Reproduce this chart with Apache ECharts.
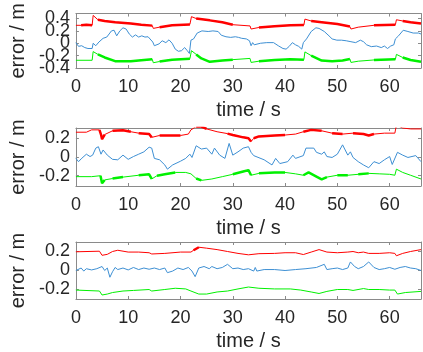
<!DOCTYPE html>
<html>
<head>
<meta charset="utf-8">
<script src="https://cdn.jsdelivr.net/npm/echarts@6/dist/echarts.min.js"></script>
<style>
  html, body { margin: 0; padding: 0; background: #fff; }
  #chart { width: 423px; height: 352px; }
</style>
</head>
<body>
<div id="chart"></div>
<script>
  // ---- data: [time (s), error (m)] ----
  const p1Red = [[0,0.29],[1,0.29],[2,0.30],[3.1,0.29],[3.3,0.45],[4.2,0.38],[5.5,0.36],[7.5,0.34],[10.5,0.32],[12.5,0.30],[14.6,0.285],[14.8,0.24],[16,0.26],[18.4,0.29],[21.8,0.305],[22.1,0.43],[23,0.40],[25.6,0.37],[28,0.34],[30,0.30],[33.3,0.28],[33.5,0.23],[35,0.255],[38,0.275],[41,0.29],[43.6,0.295],[43.8,0.39],[45,0.36],[47,0.34],[50,0.31],[52.4,0.27],[52.6,0.23],[54,0.26],[57,0.29],[61.1,0.30],[61.3,0.38],[62.5,0.36],[64,0.34],[66,0.32]];
  const p1Blue = [[0,0.01],[0.5,-0.05],[1.1,-0.04],[1.7,-0.07],[2.3,-0.085],[3.1,-0.085],[3.3,0.0],[3.8,-0.04],[4.4,0.02],[5.2,0.08],[5.9,0.1],[6.8,0.2],[7.3,0.21],[7.8,0.12],[8.4,0.2],[9.0,0.25],[9.6,0.23],[10.2,0.15],[10.8,0.1],[11.4,0.135],[12,0.1],[12.6,0.12],[13.2,0.1],[13.8,0.105],[14.7,0.02],[15,-0.04],[15.9,-0.01],[16.5,0.04],[17.2,0.01],[17.8,0.055],[18.4,0.0],[19,-0.095],[19.6,-0.13],[20.2,-0.12],[20.8,-0.07],[21.3,-0.12],[21.7,-0.165],[22,0.05],[22.5,0.07],[23.2,0.165],[24.1,0.2],[25.3,0.19],[26.2,0.2],[27.2,0.19],[27.8,0.13],[28.7,0.105],[29.6,0.095],[30.5,0.105],[31.1,0.095],[31.7,0.08],[32.6,0.07],[33.2,0.04],[33.5,-0.04],[33.8,0.01],[34.1,-0.025],[35.3,0.0],[36.5,0.01],[37.8,0.01],[38.7,-0.04],[39.6,-0.085],[40.2,-0.095],[40.8,-0.05],[41.4,0.01],[42,-0.025],[42.6,-0.05],[43.2,-0.095],[43.5,0.01],[44.1,0.07],[45,0.19],[45.9,0.25],[46.5,0.24],[47.5,0.19],[48.4,0.12],[49,0.07],[49.9,0.05],[50.8,0.05],[51.7,0.04],[52.6,0.025],[53.5,0.01],[54.4,0.05],[55,0.025],[55.6,-0.025],[56.5,-0.055],[57.5,-0.045],[58.4,-0.07],[59,-0.045],[59.6,-0.085],[60.2,-0.045],[60.8,-0.025],[61.1,0.07],[61.7,0.12],[62.6,0.21],[63.5,0.19],[64.5,0.165],[65.5,0.165],[66,0.15]];
  const p1Green = [[0,-0.275],[3.1,-0.275],[3.3,-0.135],[4.2,-0.18],[5.5,-0.23],[7.5,-0.29],[10.5,-0.29],[12.5,-0.275],[14.6,-0.26],[14.8,-0.315],[16,-0.295],[18.4,-0.265],[21.8,-0.25],[22.1,-0.12],[23,-0.18],[24,-0.245],[25.6,-0.3],[28,-0.28],[30,-0.265],[33.3,-0.245],[33.5,-0.31],[35,-0.29],[38,-0.27],[41,-0.26],[43.6,-0.265],[43.8,-0.14],[45,-0.2],[47,-0.28],[49,-0.29],[51,-0.28],[52.4,-0.255],[52.6,-0.31],[54,-0.29],[57,-0.27],[61.1,-0.26],[61.3,-0.18],[62.5,-0.23],[64,-0.27],[66,-0.3]];

  const p2Red = [[0,0.265],[2,0.265],[3,0.29],[4.5,0.29],[4.8,0.24],[5,0.19],[5.5,0.24],[7,0.28],[9,0.285],[10.5,0.27],[12,0.255],[14,0.245],[14.5,0.21],[16,0.23],[18,0.23],[20,0.23],[21.5,0.245],[22,0.29],[23,0.325],[24,0.325],[25,0.3],[27,0.27],[29,0.25],[30,0.235],[32,0.21],[33,0.2],[33.5,0.165],[34,0.2],[35,0.22],[38,0.23],[40,0.235],[42,0.245],[43.5,0.27],[45,0.29],[47,0.28],[49,0.255],[51,0.245],[53,0.255],[55,0.245],[56,0.23],[57,0.245],[59,0.255],[61,0.255],[61.3,0.34],[62.5,0.31],[64,0.3],[66,0.3]];
  const p2Blue = [[0,-0.015],[0.5,-0.05],[1,-0.02],[2,0.03],[2.7,0.005],[3.2,0.02],[3.8,0.095],[4.3,0.11],[4.8,0.03],[5.2,0.075],[6,0.02],[7,-0.025],[8,-0.03],[9,0.02],[10,-0.025],[11,0.005],[12,0.03],[13,0.055],[14,0.105],[14.5,0.095],[15,-0.015],[16,-0.03],[17,-0.085],[17.5,-0.13],[18.5,-0.085],[20,-0.045],[21,-0.015],[21.8,0.03],[22.2,-0.005],[23,0.12],[24,0.085],[25,0.095],[26,0.03],[26.5,0.095],[27.5,0.02],[28.5,-0.015],[29.3,0.145],[30,0.02],[31,0.055],[32,0.095],[33,0.11],[33.5,0.05],[34,0.015],[36,-0.03],[37.5,-0.085],[38.2,-0.015],[39,-0.07],[40.5,-0.05],[41.5,0.02],[42,-0.015],[43.5,0.015],[44,0.095],[45.5,0.095],[46,0.05],[47,0.03],[47.5,0.055],[48,0.005],[49,-0.005],[50,0.03],[51,0.13],[52,0.02],[52.5,0.055],[53,-0.005],[54,-0.05],[55,-0.085],[56,-0.115],[57,-0.05],[58,-0.07],[59,-0.03],[60,0.005],[60.5,-0.08],[61.5,0.05],[62.5,0.02],[63.5,-0.005],[65,0.015],[66,-0.05]];
  const p2Green = [[0,-0.21],[3,-0.21],[3.3,-0.195],[4.7,-0.2],[5,-0.28],[5.5,-0.245],[7,-0.23],[9,-0.215],[12,-0.195],[14,-0.185],[14.5,-0.235],[15.5,-0.2],[17,-0.185],[19,-0.165],[21,-0.165],[22,-0.18],[23,-0.23],[24,-0.25],[26,-0.235],[28,-0.21],[30,-0.185],[32,-0.155],[33,-0.14],[33.5,-0.195],[35,-0.175],[38,-0.165],[40,-0.165],[42,-0.18],[43.5,-0.195],[44.5,-0.165],[46,-0.21],[47,-0.24],[48,-0.215],[50,-0.195],[52,-0.195],[54,-0.185],[56,-0.175],[58,-0.18],[60,-0.185],[61,-0.195],[61.3,-0.13],[62.5,-0.165],[64,-0.195],[66,-0.235]];

  const p3Red = [[0,0.197],[4.5,0.203],[5,0.16],[6,0.17],[7,0.2],[8,0.213],[10,0.194],[12,0.194],[14,0.187],[14.5,0.174],[17,0.18],[20,0.194],[22,0.194],[22.5,0.213],[23.5,0.245],[25,0.235],[27,0.22],[29,0.2],[31,0.18],[33,0.165],[35,0.177],[38,0.18],[40,0.187],[42,0.187],[43.5,0.168],[45,0.194],[46.5,0.22],[48,0.194],[50,0.187],[52,0.194],[53,0.2],[54,0.187],[55,0.194],[56,0.18],[58,0.18],[60,0.187],[61,0.18],[61.3,0.155],[62.5,0.18],[64,0.2],[66,0.22]];
  const p3Blue = [[0,0],[1,0.026],[1.5,-0.006],[2,0.019],[3,0.006],[4,0.019],[5,0.042],[5.5,0],[6,0.026],[6.5,-0.071],[7,-0.013],[7.5,0.032],[8,0.01],[9,0.026],[10,0.006],[11,0.032],[12,0.01],[13,0.026],[14,0.013],[15,0.026],[16,0.01],[17,0.026],[17.5,-0.023],[18.5,-0.006],[19.5,0.026],[20.5,0.01],[21.5,0.032],[22.2,-0.006],[22.8,-0.065],[23.5,0.026],[24.5,0.042],[25.5,0.019],[26,0.042],[27,0.019],[28,0.032],[29,0.065],[30,0.019],[31,0.026],[32,0.01],[33,0.019],[34,-0.006],[34.3,0.032],[34.6,-0.006],[36,0.01],[38,0.01],[40,0],[42,0.01],[44,0.019],[46,0.032],[47.5,0.065],[48,0.01],[49,0.019],[50,0.026],[51,0.01],[52,0.026],[52.5,0.09],[53.3,0.042],[54,0.019],[55,0.042],[56,0.09],[57,0.032],[58,0.01],[59,0.019],[60,0.032],[61,0.013],[62,0.032],[63,0.042],[64,0.026],[65,0.019],[66,0]];
  const p3Green = [[0,-0.206],[4.5,-0.216],[5,-0.258],[6,-0.248],[7,-0.232],[9,-0.216],[11,-0.21],[14,-0.2],[14.5,-0.216],[17,-0.2],[19,-0.187],[21,-0.194],[22,-0.216],[23.5,-0.248],[25,-0.248],[27,-0.226],[29,-0.216],[31,-0.194],[33,-0.174],[35,-0.187],[38,-0.194],[41,-0.194],[43,-0.206],[45,-0.226],[46.5,-0.242],[48,-0.22],[50,-0.2],[52,-0.2],[53,-0.21],[55,-0.19],[56,-0.2],[58,-0.2],[60,-0.206],[61,-0.206],[61.5,-0.248],[63,-0.232],[66,-0.22]];

  // time spans where the red / green traces are noisy (drawn thicker)
  const p1Noisy = [[0.5,3.1],[3.5,14.6],[16,21.8],[22.3,30],[35,43.6],[44,52.4],[55,61.1],[61.5,66]];
  const p2Noisy = [[4.5,5.5],[7,10.5],[12,14.5],[15.5,20],[22.5,25],[29,33.5],[34,40],[43.5,48],[49,52],[53,57]];
  const p3Noisy = [[22.5,23.5],[46,47],[52.5,53.5],[54.5,55.5]];

  // tick labels
  const xTicks = [0, 10, 20, 30, 40, 50, 60];
  const p1YTicks = [-0.4, -0.2, 0, 0.2, 0.4];
  const p2YTicks = [-0.2, 0, 0.2];
  const p3YTicks = [-0.2, 0, 0.2];

  const RED = '#ff0000';
  const BLUE = '#3d8fd3';
  const GREEN = '#00f000';
  const AXIS = '#8a8a8a';
  const TEXT = '#262626';
  const FONT = 'Liberation Sans';

  function pick(data, spans) {
    // keep only the points inside the noisy spans, break the line elsewhere
    const out = [];
    spans.forEach(s => {
      data.forEach(p => { if (p[0] >= s[0] && p[0] <= s[1]) out.push(p); });
      out.push([s[1], null]);
    });
    return out;
  }

  const panels = [
    {red: p1Red, blue: p1Blue, green: p1Green, noisy: p1Noisy, ticks: p1YTicks, min: -0.4, max: 0.48, top: 6, height: 62},
    {red: p2Red, blue: p2Blue, green: p2Green, noisy: p2Noisy, ticks: p2YTicks, min: -0.31, max: 0.31, top: 128, height: 58},
    {red: p3Red, blue: p3Blue, green: p3Green, noisy: p3Noisy, ticks: p3YTicks, min: -0.3, max: 0.3, top: 242, height: 62}
  ];

  const grid = [], xAxis = [], yAxis = [], series = [];
  const line = {show: true, onZero: false, lineStyle: {color: AXIS, width: 1}};
  const tick = (vals) => ({show: true, inside: true, length: 3, customValues: vals, lineStyle: {color: AXIS, width: 1}});
  const yLabel = (vals) => ({customValues: vals, showMinLabel: true, showMaxLabel: true, hideOverlap: false,
    color: TEXT, fontSize: 18, fontFamily: FONT, margin: 6});

  panels.forEach((p, i) => {
    grid.push({left: 59, width: 362, top: p.top, height: p.height, containLabel: false});
    // bottom / top x axes
    xAxis.push({
      type: 'value', gridIndex: i, position: 'bottom', min: 0, max: 66,
      axisLine: line, axisTick: tick(xTicks), splitLine: {show: false},
      axisLabel: {customValues: xTicks, showMinLabel: true, showMaxLabel: true, hideOverlap: false,
        color: TEXT, fontSize: 18, fontFamily: FONT, margin: 10},
      name: 'time / s', nameLocation: 'middle', nameGap: 32,
      nameTextStyle: {color: TEXT, fontSize: 20, fontFamily: FONT}
    });
    xAxis.push({
      type: 'value', gridIndex: i, position: 'top', min: 0, max: 66,
      axisLine: line, axisTick: tick(xTicks), axisLabel: {show: false}, splitLine: {show: false}
    });
    // left y axis carries every other label; a second label-only axis adds the rest,
    // so close labels are not dropped as overlapping
    const evenTicks = p.ticks.filter((v, k) => k % 2 === 0);
    const oddTicks = p.ticks.filter((v, k) => k % 2 === 1);
    yAxis.push({
      type: 'value', gridIndex: i, position: 'left', min: p.min, max: p.max,
      axisLine: line, axisTick: tick(p.ticks), splitLine: {show: false},
      axisLabel: yLabel(evenTicks),
      name: 'error / m', nameLocation: 'middle', nameRotate: 90, nameGap: 46,
      nameTextStyle: {color: TEXT, fontSize: 20, fontFamily: FONT}
    });
    yAxis.push({
      type: 'value', gridIndex: i, position: 'right', min: p.min, max: p.max,
      axisLine: line, axisTick: tick(p.ticks), axisLabel: {show: false}, splitLine: {show: false}
    });
    yAxis.push({
      type: 'value', gridIndex: i, position: 'left', offset: 0, min: p.min, max: p.max,
      axisLine: {show: false, onZero: false}, axisTick: {show: false}, splitLine: {show: false},
      axisLabel: yLabel(oddTicks)
    });

    const base = {type: 'line', xAxisIndex: 2 * i, yAxisIndex: 3 * i, showSymbol: false, symbol: 'none', silent: true, animation: false};
    series.push(Object.assign({}, base, {data: p.red, lineStyle: {color: RED, width: 1}}));
    series.push(Object.assign({}, base, {data: pick(p.red, p.noisy), lineStyle: {color: RED, width: 2.5}}));
    series.push(Object.assign({}, base, {data: p.green, lineStyle: {color: GREEN, width: 1}}));
    series.push(Object.assign({}, base, {data: pick(p.green, p.noisy), lineStyle: {color: GREEN, width: 2.5}}));
    series.push(Object.assign({}, base, {data: p.blue, lineStyle: {color: BLUE, width: 1}}));
  });

  const chart = echarts.init(document.getElementById('chart'));
  chart.setOption({
    animation: false,
    backgroundColor: '#fff',
    grid: grid,
    xAxis: xAxis,
    yAxis: yAxis,
    series: series
  });
</script>
</body>
</html>
